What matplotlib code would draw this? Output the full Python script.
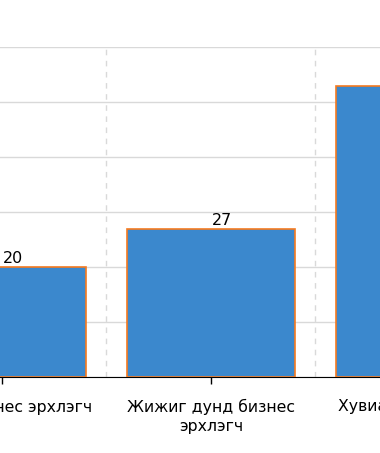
import matplotlib.pyplot as plt
import numpy as np

# Values
categories = ["Бичил бизнес эрхлэгч", "Жижиг дунд бизнес\nэрхлэгч", "Хувиараа хөдөлмөр\nэрхлэгч"]
values = [20, 27, 53]

BAR_COLOR = "#3b88cd"
EDGE_COLOR = "#f57a20"

fig = plt.figure(figsize=(3.8, 4.53), dpi=100)
W, H = 380, 453

# axes spans past the figure edges (the picture is a crop of a wider chart)
px_per_cat = 209
x0_px = 2  # pixel of first category centre
n = len(categories)
left_px = x0_px - px_per_cat / 2
bottom_px = 453 - 377
height_px = 330
ax = fig.add_axes([left_px / W, bottom_px / H, n * px_per_cat / W, height_px / H])

x = np.arange(n)
bars = ax.bar(x, values, width=0.8, color=BAR_COLOR, edgecolor=EDGE_COLOR, linewidth=1.2, zorder=3)
for xi, v in zip(x, values):
    ax.text(xi + 0.005, v + 0.1, str(v), ha="left", va="bottom", fontsize=11.5, color="black", zorder=4)

ax.set_xlim(-0.5, n - 0.5)
ax.set_ylim(0, 60)
ax.set_yticks(np.arange(0, 61, 10))
ax.set_xticks(x)
ax.set_xticklabels(categories, fontsize=11.3, linespacing=1.3)
ax.set_xticks(x[:-1] + 0.5, minor=True)

ax.grid(axis="y", which="major", color="#d9d9d9", linewidth=1, zorder=0)
ax.grid(axis="x", which="minor", color="#d9d9d9", linestyle=(0, (4, 4)), linewidth=1, zorder=0)
ax.tick_params(axis="x", which="major", length=5, width=1, pad=11, color="black")
ax.tick_params(axis="x", which="minor", length=0)
ax.tick_params(axis="y", length=0, labelleft=False)

for side in ["top", "right", "left"]:
    ax.spines[side].set_visible(False)
ax.spines["bottom"].set_color("black")

fig.savefig("out.png", dpi=100)
